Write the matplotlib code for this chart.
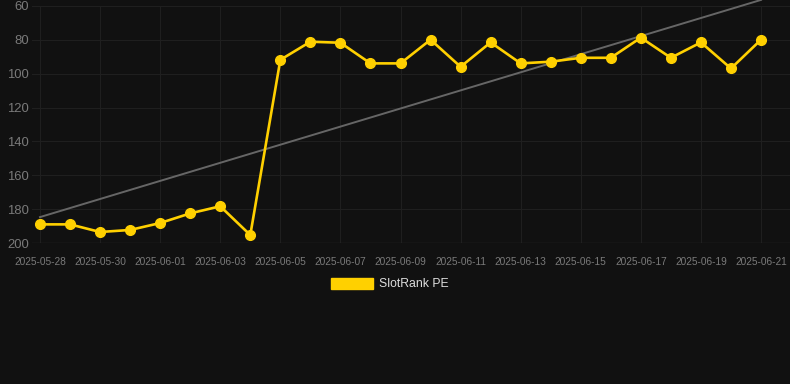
import numpy as np
import pandas as pd
import matplotlib
matplotlib.use("Agg")
import matplotlib.pyplot as plt
import matplotlib.dates as mdates
from matplotlib.patches import Patch

plt.rcParams['font.family'] = ['Liberation Sans', 'DejaVu Sans']

# datos
dates = pd.date_range("2025-05-28", "2025-06-21", freq="D")
slotrank_pe = [189, 189, 193.5, 192.3, 188.2, 182.5, 178.3, 195.3,
               91.8, 81.1, 81.7, 93.9, 93.9, 79.9, 95.9, 81.5,
               93.9, 92.9, 90.6, 90.6, 78.7, 90.6, 81.5, 96.9, 79.9]
trend_dates = [dates[0], dates[-1]]
trend_values = [184.7, 56.4]
y_ticks = [60, 80, 100, 120, 140, 160, 180, 200]

bg = "#111111"
yellow = "#FFD000"

fig = plt.figure(figsize=(7.9, 3.84), dpi=100, facecolor=bg)
ax = fig.add_axes([32 / 790, 1 - 243 / 384, 758 / 790, 237 / 384])
ax.set_facecolor(bg)

ax.plot(trend_dates, trend_values, color="#666666", linewidth=1.4, zorder=2,
        clip_on=False)
ax.plot(dates, slotrank_pe, color=yellow, linewidth=1.9, marker="o",
        markersize=7, zorder=3, clip_on=False)

day = pd.Timedelta(days=1)
ax.set_xlim(dates[0] - 0.266 * day, dates[-1] + 0.965 * day)
ax.set_ylim(200, 60)
ax.set_yticks(y_ticks)
ax.set_xticks(dates[::2])
ax.xaxis.set_major_formatter(mdates.DateFormatter("%Y-%m-%d"))

ax.grid(True, color="#1f1f1f", linewidth=0.8)
ax.set_axisbelow(True)
for s in ax.spines.values():
    s.set_visible(False)
ax.axhline(200, color="#2a2a2a", linewidth=1.0, zorder=1)
ax.tick_params(axis="y", colors="#7a7a7a", labelsize=9.4, length=0, pad=2)
ax.tick_params(axis="x", colors="#7a7a7a", labelsize=7.3, length=0, pad=10)

fig.legend(handles=[Patch(facecolor=yellow, edgecolor=yellow, label="SlotRank PE")],
           loc="center", bbox_to_anchor=(390 / 790, 1 - 284 / 384),
           frameon=False, fontsize=8.8, labelcolor="#dddddd",
           handlelength=3.4, handleheight=1.0, handletextpad=0.5)

fig.savefig("out.png", dpi=100, facecolor=bg)
